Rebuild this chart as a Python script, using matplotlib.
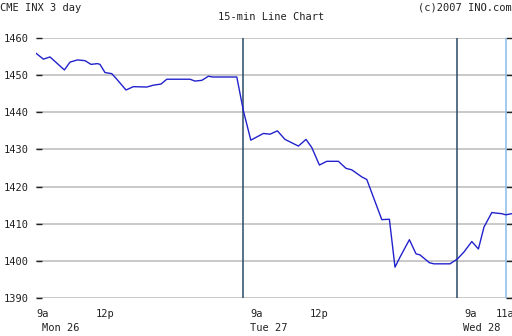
import matplotlib
matplotlib.use("Agg")
import matplotlib.pyplot as plt

# hours since Mon 9a (each day takes 10.7 units on this chart's axis)
horas = [0.35, 0.72, 1.05, 1.77, 2.05, 2.42, 2.8, 3.1, 3.42, 3.55, 3.8, 4.14,
         4.39, 4.85, 5.22, 5.89, 6.22, 6.6, 6.89, 8.05, 8.3, 8.64, 8.97, 9.19,
         10.39, 10.72, 11.09, 11.72, 12.05, 12.42, 12.8, 13.47, 13.85, 14.14,
         14.52, 14.89, 15.47, 15.85, 16.14, 16.64, 16.89, 17.64, 18.02, 18.3,
         18.55, 19.02, 19.35, 19.55, 20.02, 20.25, 21.05, 21.42, 21.75, 22.14,
         22.47, 22.75, 23.14, 23.64, 23.84, 24.14]
precos = [1455.9, 1454.3, 1454.9, 1451.4, 1453.5, 1454.1, 1453.9, 1452.9,
          1453.1, 1452.9, 1450.7, 1450.4, 1448.9, 1446.0, 1446.9, 1446.8,
          1447.3, 1447.6, 1448.9, 1448.9, 1448.4, 1448.6, 1449.7, 1449.5,
          1449.5, 1440.4, 1432.5, 1434.3, 1434.1, 1435.0, 1432.7, 1430.9,
          1432.7, 1430.5, 1425.8, 1426.8, 1426.8, 1424.9, 1424.5, 1422.6,
          1421.9, 1411.1, 1411.2, 1398.3, 1401.0, 1405.7, 1401.9, 1401.6,
          1399.5, 1399.2, 1399.2, 1400.5, 1402.4, 1405.2, 1403.2, 1409.1,
          1413.0, 1412.7, 1412.4, 1412.7]

yticks = [1390, 1400, 1410, 1420, 1430, 1440, 1450, 1460]
hora_pos = [0, 3, 10.7, 13.7, 21.4, 23.0]
hora_txt = ["9a", "12p", "9a", "12p", "9a", "11a"]
dia_pos = [0.3, 10.7, 21.35]
dia_txt = ["Mon 26", "Tue 27", "Wed 28"]
sep_dias = [10.7, 21.4]
agora = 23.84

fonte = "DejaVu Sans Mono"
cor_txt = "#222222"

fig = plt.figure(figsize=(5.12, 3.36), dpi=100)
ax = fig.add_axes([36/512, 1-298/336, 476/512, 260/336])

ax.set_xlim(0.35, 24.15)
ax.set_ylim(1390, 1460)
ax.set_yticks(yticks)
ax.set_xticks([])
ax.grid(axis="y", color="#c0c0c0", linewidth=1.2)
for s in ax.spines.values():
    s.set_visible(False)
ax.tick_params(axis="y", direction="in", length=4, width=1, color="#222222",
               pad=5, labelsize=7.5, labelcolor=cor_txt, right=True)
for lb in ax.get_yticklabels():
    lb.set_fontfamily(fonte)

for x in sep_dias:
    ax.axvline(x, color="#2a4a68", linewidth=1.1)
ax.axvline(agora, color="#88bbee", linewidth=1.1)

ax.plot(horas, precos, color="#2222cc", linewidth=1)

for x, t in zip(hora_pos, hora_txt):
    ax.annotate(t, (x, 0), xycoords=("data", "axes fraction"), xytext=(5, -8),
                textcoords="offset points", ha="left", va="top", fontsize=7.5,
                family=fonte, color=cor_txt, annotation_clip=False)
for x, t in zip(dia_pos, dia_txt):
    ax.annotate(t, (x, 0), xycoords=("data", "axes fraction"), xytext=(5, -18),
                textcoords="offset points", ha="left", va="top", fontsize=7.5,
                family=fonte, color=cor_txt, annotation_clip=False)

fig.text(0, 1-3/336, "CME INX 3 day", ha="left", va="top", fontsize=7.5,
         family=fonte, color=cor_txt)
fig.text(1, 1-3/336, "(c)2007 INO.com", ha="right", va="top", fontsize=7.5,
         family=fonte, color=cor_txt)
fig.text(271/512, 1-12/336, "15-min Line Chart", ha="center", va="top",
         fontsize=7.5, family=fonte, color=cor_txt)

fig.savefig("out.png", dpi=100)
